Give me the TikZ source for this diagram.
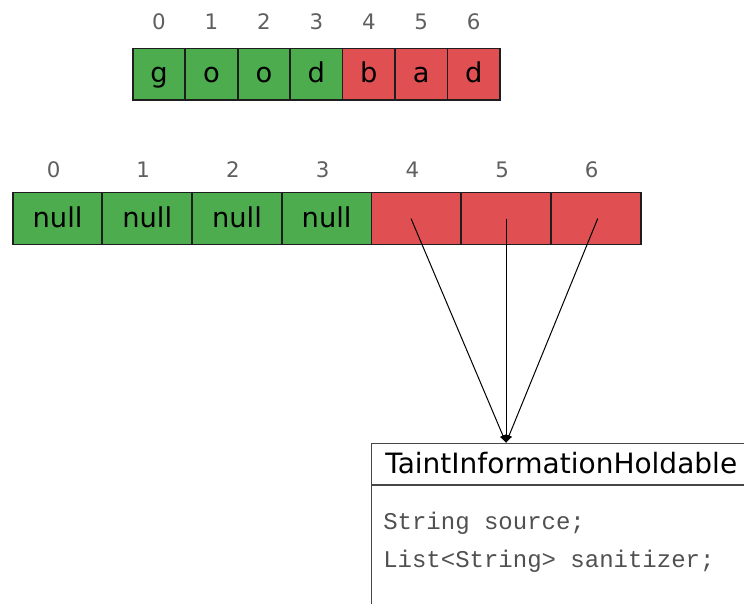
\documentclass[tikz,border=0pt]{standalone}
\usepackage{fontspec}
\setmainfont{DejaVu Sans}
\newfontfamily\codefont{Liberation Mono}
\usetikzlibrary{arrows.meta}
\definecolor{okgreen}{RGB}{77,172,77}
\definecolor{badred}{RGB}{224,80,82}
\definecolor{idxgray}{RGB}{95,95,95}
\definecolor{codegray}{RGB}{80,80,80}
\definecolor{edge}{RGB}{30,30,30}
\definecolor{boxedge}{RGB}{70,70,70}
\begin{document}
\begin{tikzpicture}[x=0.75pt,y=-0.75pt,
  cellbase/.style={draw=edge, line width=1.35pt, inner sep=0pt,
    font=\fontsize{20.5}{22}\selectfont, text height=14pt, text depth=1pt},
  charcell/.style={cellbase, minimum width=39.35pt, minimum height=38.6pt},
  refcell/.style={cellbase, minimum width=67.3pt, minimum height=39pt},
  idx/.style={text=idxgray, font=\fontsize{16}{18}\selectfont, inner sep=0pt},
  arr/.style={line width=0.75pt, -{Latex[length=6pt,width=5pt]}},
  codeline/.style={anchor=base west, inner sep=0pt, text=codegray,
    font=\codefont\fontsize{18}{20}\selectfont}]
\useasboundingbox (0,0) rectangle (744,604);
\clip (0,0) rectangle (744,604);

% the string "goodbad" with per-character taint
\foreach \c/\f [count=\i from 0] in {g/okgreen,o/okgreen,o/okgreen,d/okgreen,b/badred,a/badred,d/badred}{
  \node[charcell, fill=\f] (t\i) at ({132.7+52.47*(\i+0.5)},74.3) {\c};
  \node[idx] (ti\i) at ({132.7+52.47*(\i+0.5)},21.5) {\i};
}

% taint array: clean slots hold null
\foreach \f/\txt [count=\i from 0] in {okgreen/null,okgreen/null,okgreen/null,okgreen/null,badred/,badred/,badred/}{
  \node[refcell, fill=\f] (n\i) at ({12.7+89.7*(\i+0.5)},218.5) {\txt};
  \node[idx] (ni\i) at ({12.7+89.7*(\i+0.5)-4},169.7) {\i};
}

% class box holding the taint information
\node[draw=boxedge, line width=1.1pt, anchor=north west, minimum width=300pt,
  minimum height=160pt, inner sep=0pt] (cls) at (371,443) {};
\draw[boxedge, line width=1.1pt] (cls.west |- 0,485) -- (cls.east |- 0,485);
\node[anchor=base west, inner sep=0pt, font=\fontsize{21}{24}\selectfont]
  (title) at (385,473) {TaintInformationHoldable};
\node[codeline] (f1) at (383,529) {String source;};
\node[codeline] (f2) at (383,567) {List<String> sanitizer;};

% every tainted slot points to the same object
\draw[arr] ([xshift=-4pt]n4.center) -- (n5 |- cls.north);
\draw[arr] (n5.center) -- (n5 |- cls.north);
\draw[arr] ([xshift=1.5pt]n6.center) -- (n5 |- cls.north);
\end{tikzpicture}
\end{document}
